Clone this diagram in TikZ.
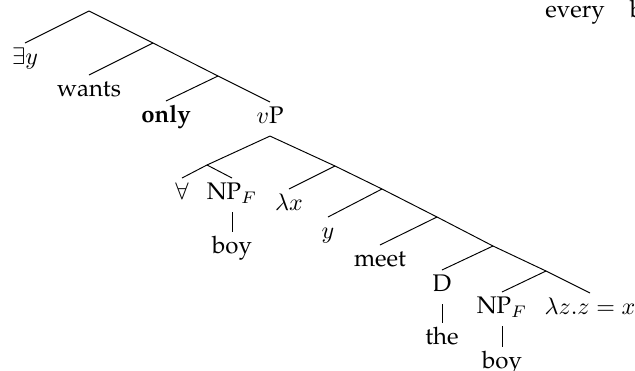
\documentclass[tikz,border=0pt]{standalone}
\usepackage[T1]{fontenc}
\renewcommand{\rmdefault}{ppl}
\usepackage{amsmath}

\begin{document}
\begin{tikzpicture}[x=0.4167pt, y=-0.4167pt,
	leaf/.style={anchor=north, inner sep=1.8pt, text height=7pt, text depth=3.2pt}]
	\clip (0,0) rectangle (635,371);
	% upper spine: root down to vP
	\coordinate (r0) at (89,11);
	\coordinate (r1) at (153,43);
	\coordinate (r2) at (218,76);
	\node[leaf] (ey) at (25,43) {$\exists y$};
	\node[leaf] (wants) at (89,75) {wants};
	\node[leaf] (only) at (166,101) {\textbf{only}};
	\node[leaf] (vp) at (270,102) {$v$P};
	\draw (r0) -- (ey.north);
	\draw (r0) -- (r1) -- (r2) -- (vp.north);
	\draw (r1) -- (wants.north);
	\draw (r2) -- (only.north);
	% restrictor: forall NP_F
	\coordinate (q1) at (207,165);
	\node[leaf] (all) at (182,178) {$\forall$};
	\node[leaf] (np1) at (232,178) {NP$_F$};
	\node[leaf] (boy1) at (232,232) {boy};
	\draw (vp.south) -- (q1);
	\draw (q1) -- (all.north);
	\draw (q1) -- (np1.north);
	\draw (np1.south) -- (boy1.north);
	% lower spine: lambda x down to lambda z.z=x
	\coordinate (s1) at (335,166);
	\coordinate (s2) at (382,189);
	\coordinate (s3) at (437,217);
	\coordinate (s4) at (493,246);
	\coordinate (s5) at (546,271);
	\node[leaf] (lx) at (289,189) {$\lambda x$};
	\node[leaf] (y) at (328,217) {$y$};
	\node[leaf] (meet) at (380,245) {meet};
	\node[leaf] (d) at (442,270) {D};
	\node[leaf] (the) at (442,323) {the};
	\node[leaf] (np2) at (502,292) {NP$_F$};
	\node[leaf] (boy2) at (502,347) {boy};
	\node[leaf] (lz) at (590,293) {$\lambda z.z=x$};
	\draw (vp.south) -- (s1) -- (s2) -- (s3) -- (s4) -- (s5) -- (lz.north);
	\draw (s1) -- (lx.north);
	\draw (s2) -- (y.north);
	\draw (s3) -- (meet.north);
	\draw (s4) -- (d.north);
	\draw (d.south) -- (the.north);
	\draw (s5) -- (np2.north);
	\draw (np2.south) -- (boy2.north);
	% cut-off leaves at the top right
	\node[leaf] (every) at (575,-4) {every};
	\node[leaf] (boy3) at (650,-4) {boy};
\end{tikzpicture}
\end{document}
